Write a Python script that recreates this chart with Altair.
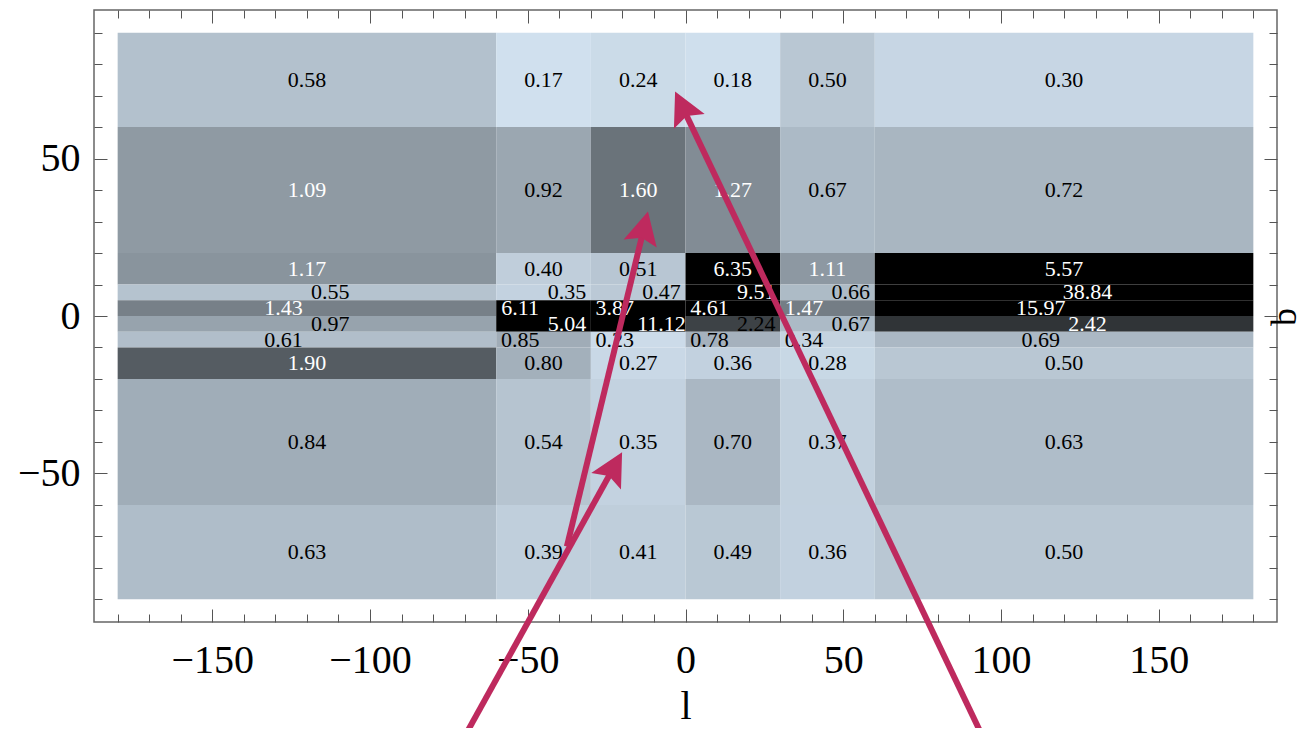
import math
import pandas as pd
import altair as alt

# ---------------- data ----------------
l_edges = [-180, -60, -30, 0, 30, 60, 180]
b_edges = [90, 60, 20, 10, 5, 0, -5, -10, -20, -60, -90]   # top -> bottom
cell_values = [
    [0.58, 0.17, 0.24, 0.18, 0.50, 0.30],
    [1.09, 0.92, 1.60, 1.27, 0.67, 0.72],
    [1.17, 0.40, 0.51, 6.35, 1.11, 5.57],
    [0.55, 0.35, 0.47, 9.51, 0.66, 38.84],
    [1.43, 6.11, 3.87, 4.61, 1.47, 15.97],
    [0.97, 5.04, 11.12, 2.24, 0.67, 2.42],
    [0.61, 0.85, 0.23, 0.78, 0.34, 0.69],
    [1.90, 0.80, 0.27, 0.36, 0.28, 0.50],
    [0.84, 0.54, 0.35, 0.70, 0.37, 0.63],
    [0.63, 0.39, 0.41, 0.49, 0.36, 0.50],
]
x_label_values = [-150, -100, -50, 0, 50, 100, 150]
y_label_values = [-50, 0, 50]
x_tick_values = list(range(-180, 181, 10))
y_tick_values = list(range(-90, 91, 10))

# arrows (l, b) : tail -> tip
arrow_l0 = [-77.5, -37.6, 100.6]
arrow_b0 = [-147.1, -73.2, -147.1]
arrow_l1 = [-20.1, -11.9, -3.3]
arrow_b1 = [-43.3, 33.2, 71.3]

# ---------------- layout constants ----------------
W, H = 1183, 612
XDOM = [-187.5, 187.5]
YDOM = [-97.2, 97.2]
kx = W / (XDOM[1] - XDOM[0])
ky = H / (YDOM[1] - YDOM[0])
SERIF = "Liberation Serif"
ARROW = "#be2a5e"
LABEL_SHIFT = 7.4

# ---------------- tables ----------------
rows = []
side = -1
for i in range(len(b_edges) - 1):
    bt, bb = b_edges[i], b_edges[i + 1]
    thin = (bt - bb) <= 5
    if thin:
        side = -side
    s = side if thin else 0
    for j in range(len(l_edges) - 1):
        v = cell_values[i][j]
        lc = (l_edges[j] + l_edges[j + 1]) / 2
        rows.append(dict(l0=l_edges[j], l1=l_edges[j + 1], b0=bb, b1=bt, v=v,
                         lx=lc + s * LABEL_SHIFT, bc=(bt + bb) / 2, lab=f"{v:.2f}"))
cells = pd.DataFrame(rows)

arr = []
for l0, b0, l1, b1 in zip(arrow_l0, arrow_b0, arrow_l1, arrow_b1):
    dx = (l1 - l0) * kx
    dy = -(b1 - b0) * ky
    n = math.hypot(dx, dy)
    ux, uy = dx / n, dy / n
    ang = math.degrees(math.atan2(dx, -dy)) % 360
    arr.append(dict(l0=l0, b0=b0, l1=l1, b1=b1,
                    le=l1 - ux * 20 / kx, be=b1 + uy * 20 / ky, ang=ang))
arrows = pd.DataFrame(arr)

xs = alt.Scale(domain=XDOM, nice=False, zero=False)
ys = alt.Scale(domain=YDOM, nice=False, zero=False)
big = {"condition": {"test": "datum.value % 50 == 0", "value": 13}, "value": 8}

def tick_axis(orient, offset, values, **kw):
    return alt.Axis(orient=orient, offset=offset, values=values, labels=False,
                    domain=False, ticks=True, tickSize=big, tickColor="#555",
                    tickWidth=1, grid=False, title=None, **kw)

# bottom labels + title "l", left labels
x_lab_axis = alt.Axis(orient="bottom", values=x_label_values, ticks=False, tickSize=0,
                      domain=False, grid=False, labelFont=SERIF, labelFontSize=40,
                      labelColor="black", labelPadding=18, labelFlush=False,
                      title="l", titleFont=SERIF, titleFontSize=40, titleFontWeight="normal",
                      titleColor="black", titleX=591.5, titleY=96, titleAlign="center",
                      titleBaseline="alphabetic", titleAngle=0)
y_lab_axis = alt.Axis(orient="left", values=y_label_values, ticks=False, tickSize=0,
                      domain=False, grid=False, labelFont=SERIF, labelFontSize=40,
                      labelColor="black", labelPadding=14, labelFlush=False, title=None)

rects = alt.Chart(cells).mark_rect(strokeWidth=0).encode(
    x=alt.X("l0:Q", scale=xs, axis=x_lab_axis),
    x2="l1:Q",
    y=alt.Y("b0:Q", scale=ys, axis=y_lab_axis),
    y2="b1:Q",
    color=alt.Color("v:Q", legend=None,
                    scale=alt.Scale(domain=[0, 3.1], range=["#dcedfc", "#000000"],
                                    clamp=True, interpolate="rgb")),
)

texts = alt.Chart(cells).mark_text(font=SERIF, fontSize=22, baseline="middle",
                                   align="center").encode(
    x=alt.X("lx:Q", scale=xs, axis=tick_axis("top", -H, x_tick_values)),
    y=alt.Y("bc:Q", scale=ys, axis=tick_axis("right", -W, y_tick_values)),
    text="lab:N",
    color=alt.condition("datum.v > 1 && datum.v != 2.24", alt.value("white"),
                        alt.value("black")),
)

right_axis = alt.Axis(orient="left", offset=-W, values=y_tick_values, labels=False,
                      domain=False, ticks=True, tickSize=big, tickColor="#555",
                      tickWidth=1, grid=False,
                      title="b", titleFont=SERIF, titleFontSize=36, titleFontWeight="normal",
                      titleColor="black", titleAngle=270, titleX=18, titleY=306.5,
                      titleAlign="center", titleBaseline="alphabetic")

shafts = alt.Chart(arrows).mark_rule(color=ARROW, strokeWidth=6, strokeCap="butt").encode(
    x=alt.X("l0:Q", scale=xs, axis=tick_axis("bottom", -H, x_tick_values)),
    y=alt.Y("b0:Q", scale=ys, axis=right_axis),
    x2="le:Q",
    y2="be:Q",
)

heads = alt.Chart(arrows).mark_point(
    shape="M0,0L1.7,3.3L0,2.7L-1.7,3.3Z", filled=True, size=400, opacity=1,
    color=ARROW, strokeWidth=0).encode(
    x=alt.X("l1:Q", scale=xs, axis=None),
    y=alt.Y("b1:Q", scale=ys, axis=None),
    angle=alt.Angle("ang:Q", scale=None),
)

chart = alt.layer(rects, texts, shafts, heads).resolve_axis(
    x="independent", y="independent"
).properties(
    width=W, height=H,
    autosize=alt.AutoSizeParams(type="none"),
    padding={"left": 86, "top": 2, "right": 23, "bottom": 106},
).configure_view(stroke="#666", strokeWidth=1.5)

chart.save("out.html", embed_options={"renderer": "svg", "actions": False})
